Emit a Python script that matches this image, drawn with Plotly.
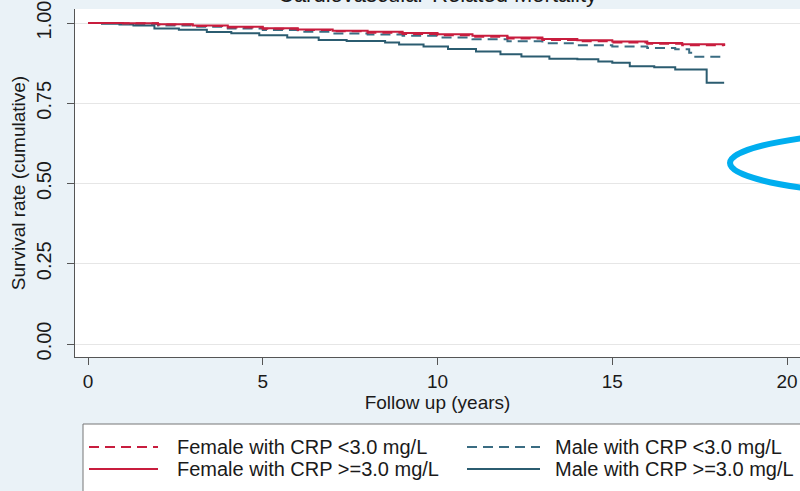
import plotly.graph_objects as go

# ---------------- data ----------------
years_female = [0, 1, 2, 3, 4, 5, 6, 7, 8, 9, 10, 11, 12, 13, 14, 15, 16, 17, 18.2]
female_low_crp = [1.000, 0.999, 0.995, 0.991, 0.986, 0.982, 0.978, 0.974, 0.970, 0.966,
                  0.962, 0.957, 0.952, 0.947, 0.943, 0.939, 0.935, 0.931, 0.928]
female_high_crp = [1.000, 0.999, 0.996, 0.992, 0.988, 0.984, 0.980, 0.976, 0.973, 0.969,
                   0.965, 0.960, 0.955, 0.950, 0.946, 0.942, 0.938, 0.934, 0.931]

years_male_low = [0, 1, 2, 3, 4, 5, 6, 7, 8, 9, 10, 11, 12, 13, 14, 15, 16, 16.8, 17.2, 17.3, 18.2]
male_low_crp = [1.000, 0.997, 0.992, 0.988, 0.983, 0.978, 0.973, 0.967, 0.964, 0.960,
                0.955, 0.949, 0.943, 0.937, 0.931, 0.927, 0.922, 0.918, 0.907, 0.895, 0.895]

years_male_high = [0, 0.4, 0.9, 1.3, 1.9, 2.6, 3.4, 4.1, 4.9, 5.7, 6.6, 7.4, 8.5, 8.9, 9.6,
                   10.3, 11.1, 11.8, 12.4, 13.2, 14.0, 14.6, 15.0, 15.5, 16.2, 16.8, 17.7, 18.2]
male_high_crp = [1.000, 0.998, 0.995, 0.992, 0.983, 0.979, 0.972, 0.968, 0.962, 0.955, 0.947,
                 0.944, 0.939, 0.933, 0.927, 0.919, 0.911, 0.903, 0.896, 0.889, 0.887, 0.880,
                 0.876, 0.865, 0.862, 0.855, 0.814, 0.814]

series_names = ["Female with CRP <3.0 mg/L", "Male with CRP <3.0 mg/L",
                "Female with CRP >=3.0 mg/L", "Male with CRP >=3.0 mg/L"]
x_ticks = [0, 5, 10, 15, 20]
y_ticks = [0, 0.25, 0.5, 0.75, 1.0]
y_tick_labels = ["0.00", "0.25", "0.50", "0.75", "1.00"]

# ---------------- style ----------------
RED = "#c81d3e"
TEAL = "#2b5c70"
TEAL_D = "#3a6c82"
BG = "#eaf2f7"
AXC = "#555555"
TXT = "#1a1a1a"
FONT = "Liberation Sans, Arial, sans-serif"
DASH = "10px,6px"

W, H = 800, 491
ML, MR, MT, MB = 75, 0, 9, 134
PW, PH = W - ML - MR, H - MT - MB


def px(x):
    return (x - ML) / PW


def py(y):
    return (H - MB - y) / PH


fig = go.Figure()
fig.add_trace(go.Scatter(x=years_male_high, y=male_high_crp, mode="lines", line_shape="hv",
                         line=dict(color=TEAL, width=2), name=series_names[3]))
fig.add_trace(go.Scatter(x=years_male_low, y=male_low_crp, mode="lines", line_shape="hv",
                         line=dict(color=TEAL_D, width=2, dash=DASH), name=series_names[1]))
fig.add_trace(go.Scatter(x=years_female, y=female_low_crp, mode="lines", line_shape="hv",
                         line=dict(color=RED, width=2, dash=DASH), name=series_names[0]))
fig.add_trace(go.Scatter(x=years_female, y=female_high_crp, mode="lines", line_shape="hv",
                         line=dict(color=RED, width=2), name=series_names[2]))

fig.update_layout(
    width=W, height=H, margin=dict(l=ML, r=MR, t=MT, b=MB, autoexpand=False),
    paper_bgcolor=BG, plot_bgcolor="white", showlegend=False,
    font=dict(family=FONT, color=TXT, size=19),
)
fig.update_xaxes(
    range=[-0.372, 20.37], tickvals=x_ticks, ticktext=[str(v) for v in x_ticks],
    showgrid=False, zeroline=False, showline=True, linecolor=AXC, linewidth=1,
    ticks="outside", ticklen=7, tickcolor=AXC, tickfont=dict(size=19),
    title=dict(text="Follow up (years)", font=dict(size=19), standoff=4),
)
fig.update_yaxes(
    range=[-0.0405, 1.0436], tickvals=y_ticks, ticktext=y_tick_labels, tickangle=-90,
    showgrid=True, gridcolor="#e6e6e6", gridwidth=1, zeroline=False,
    showline=True, linecolor=AXC, linewidth=1,
    ticks="outside", ticklen=7, tickcolor=AXC, tickfont=dict(size=20),
    ticklabelstandoff=8,
    title=dict(text="Survival rate (cumulative)", font=dict(size=19), standoff=2),
)

# Title (partially cut off at the top of the picture, as in the reference)
fig.add_annotation(text="Cardiovascular-Related Mortality", xref="paper", yref="paper",
                   x=0.5, y=py(9), xanchor="center", yanchor="bottom", showarrow=False,
                   font=dict(size=22, color=TXT, family=FONT))

# Legend box drawn manually (two columns)
fig.add_shape(type="rect", xref="paper", yref="paper", x0=px(83), x1=px(830), y0=py(424),
              y1=py(520), line=dict(color="#777777", width=1), fillcolor="white", layer="below")
legend_items = [
    (series_names[0], RED, DASH, 89, 158, 175, 447),
    (series_names[2], RED, "solid", 89, 158, 175, 469),
    (series_names[1], TEAL_D, DASH, 467, 540, 553, 447),
    (series_names[3], TEAL, "solid", 467, 540, 553, 469),
]
for name, col, dash, lx0, lx1, tx, ty in legend_items:
    fig.add_shape(type="line", xref="paper", yref="paper", x0=px(lx0), x1=px(lx1),
                  y0=py(ty), y1=py(ty), line=dict(color=col, width=2, dash=dash))
    fig.add_annotation(text=name, xref="paper", yref="paper", x=px(tx), y=py(ty),
                       xanchor="left", yanchor="middle", showarrow=False,
                       font=dict(size=20, color=TXT, family=FONT))

# Highlight ellipse (cyan marker drawn over the figure, partly off-canvas)
fig.add_shape(type="circle", xref="paper", yref="paper", x0=px(730), x1=px(1220),
              y0=py(198), y1=py(128), line=dict(color="#00aeef", width=6))

fig.write_html("out.html")
